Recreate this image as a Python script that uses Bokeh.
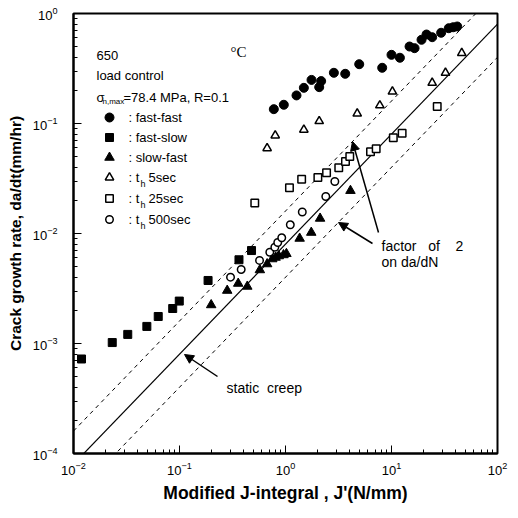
from bokeh.plotting import figure
from bokeh.models import Range1d, Arrow, NormalHead, Label
from bokeh.embed import file_html
from bokeh.resources import INLINE
from bokeh.core.properties import value

# ---------------- data ----------------
ff_j = [0.776, 0.964, 1.27, 1.49, 1.76, 2.08, 2.17, 2.86, 3.66, 4.96, 8.17, 10.0,
        12.0, 14.8, 16.5, 19.2, 21.4, 24.2, 29.4, 34.7, 38.2, 41.7]
ff_r = [0.135, 0.148, 0.180, 0.211, 0.249, 0.214, 0.243, 0.289, 0.283, 0.346, 0.321, 0.421,
        0.396, 0.501, 0.484, 0.577, 0.644, 0.609, 0.668, 0.735, 0.750, 0.762]

fs_j = [0.0119, 0.0232, 0.0325, 0.0492, 0.0630, 0.0863, 0.0995, 0.186, 0.364, 0.478]
fs_r = [0.000723, 0.00102, 0.00121, 0.00143, 0.00176, 0.00208, 0.00243, 0.00374, 0.00577, 0.00700]

sf_j = [0.199, 0.282, 0.358, 0.436, 0.573, 0.671, 0.750, 0.806, 0.865, 0.957, 1.02, 1.36,
        1.75, 2.12, 4.10]
sf_r = [0.00224, 0.00303, 0.00351, 0.00330, 0.00466, 0.00528, 0.00586, 0.00605, 0.00624,
        0.00638, 0.00654, 0.00901, 0.0102, 0.0137, 0.0245]

t5_j = [0.671, 0.800, 1.49, 2.08, 4.75, 7.76, 10.2, 24.2, 32.3, 46.0]
t5_r = [0.0596, 0.0778, 0.0877, 0.105, 0.123, 0.146, 0.195, 0.234, 0.289, 0.436]

t25_j = [0.513, 1.09, 1.42, 2.02, 2.44, 3.18, 3.68, 4.04, 6.34, 7.17, 10.4, 12.6, 27.0]
t25_r = [0.0189, 0.0260, 0.0312, 0.0323, 0.0356, 0.0396, 0.0451, 0.0501, 0.0553, 0.0589,
         0.0741, 0.0816, 0.143]

t500_j = [0.303, 0.382, 0.569, 0.711, 0.793, 0.845, 0.922, 1.11, 1.44, 2.40, 2.92]
t500_r = [0.00401, 0.00471, 0.00569, 0.00676, 0.00750, 0.00828, 0.00914, 0.0120, 0.0157,
          0.0217, 0.0297]

line_j = [0.01, 100.0]
creep_r = [8.0e-5, 0.8]     # static creep line
upper_r = [1.6e-4, 1.6]     # x2 band
lower_r = [4.0e-5, 0.4]     # /2 band

legend_names = [": fast-fast", ": fast-slow", ": slow-fast", "5sec", "25sec", "500sec"]

# ---------------- figure ----------------
FONT = "Liberation Sans"
NB = "\u00a0"
p = figure(width=512, height=515, x_axis_type="log", y_axis_type="log",
           x_range=Range1d(0.01, 100), y_range=Range1d(1e-4, 1),
           output_backend="svg", toolbar_location=None,
           min_border_left=73, min_border_right=15, min_border_top=13, min_border_bottom=62)
p.grid.visible = False
p.outline_line_color = "black"
p.outline_line_width = 2
p.background_fill_color = "white"
p.border_fill_color = "white"

for ax in (p.xaxis, p.yaxis):
    ax.axis_line_width = 2
    ax.axis_line_color = "black"
    ax.major_tick_in = 8
    ax.major_tick_out = 0
    ax.minor_tick_in = 4
    ax.minor_tick_out = 0
    ax.major_tick_line_color = "black"
    ax.minor_tick_line_color = "black"
    ax.major_label_text_font = FONT
    ax.major_label_text_font_size = "13px"
    ax.major_label_text_color = "black"
    ax.axis_label_text_font = FONT
    ax.axis_label_text_font_style = "bold"
    ax.axis_label_text_color = "black"

p.xaxis.axis_label = "Modified J-integral , J'(N/mm)"
p.xaxis.axis_label_text_font_size = "17.5px"
p.xaxis.major_label_standoff = 8
p.xaxis.axis_label_standoff = 5
p.yaxis.axis_label = "Crack growth rate, da/dt(mm/hr)"
p.yaxis.axis_label_text_font_size = "15.5px"
p.yaxis.major_label_standoff = 16
p.yaxis.axis_label_standoff = 6

# lines
p.line(line_j, creep_r, line_color="black", line_width=1.2)
p.line(line_j, upper_r, line_color="black", line_width=1, line_dash="4 4")
p.line(line_j, lower_r, line_color="black", line_width=1, line_dash="4 4")

# data
p.scatter(ff_j, ff_r, marker="circle", size=9, fill_color="black", line_color="black")
p.scatter(fs_j, fs_r, marker="square", size=8, fill_color="black", line_color="black")
p.scatter(sf_j, sf_r, marker="triangle", size=9.5, fill_color="black", line_color="black")
p.scatter(t5_j, t5_r, marker="triangle", size=8.5, fill_color="white", line_color="black", line_width=1.5)
p.scatter(t25_j, t25_r, marker="square", size=7.5, fill_color="white", line_color="black", line_width=1.5)
p.scatter(t500_j, t500_r, marker="circle", size=7.5, fill_color="white", line_color="black", line_width=1.5)

# helper to place annotations at reference pixel positions
X0, Y0, DX, DY = 73, 13, 106, 110
def at(xp, yp):
    return 10 ** ((xp - X0) / DX - 2), 10 ** ((Y0 - yp) / DY)

def lab(txt, xp, yp, size="13px", font=FONT, style="normal"):
    x, y = at(xp, yp)
    p.add_layout(Label(x=x, y=y, text=txt, text_font=font, text_font_size=size,
                       text_baseline="middle", text_align="left", text_color="black",
                       text_font_style=style))

lab("650", 96, 55)
lab("°C", 230, 51, size="15px", font="Liberation Serif")
lab("load control", 96, 75)
lab("σ", 96, 97)
lab("n,max", 102, 101, size="8px")
lab("=78.4 MPa, R=0.1", 123, 97)

leg_y = [117, 137, 157, 177, 198, 219]
markers = [("circle", 9, "black"), ("square", 8, "black"), ("triangle", 9.5, "black"),
           ("triangle", 8.5, "white"), ("square", 7.5, "white"), ("circle", 7.5, "white")]
for (mk, sz, fc), yp, name in zip(markers, leg_y, legend_names):
    x, y = at(109, yp)
    p.scatter([x], [y], marker=mk, size=sz, fill_color=fc, line_color="black",
              line_width=1.5 if fc == "white" else 1)
    if name.startswith(":"):
        lab(name, 128, yp)
    else:
        lab(": t", 128, yp)
        lab("h", 140, yp + 6, size="9px")
        lab(name, 148, yp)

lab("static" + NB * 2 + "creep", 226, 387, size="14px")
lab("factor" + NB * 3 + "of" + NB * 4 + "2", 381, 245, size="14px")
lab("on da/dN", 381, 261, size="14px")

def arrow(x1, y1, x2, y2):
    xs, ys = at(x1, y1)
    xe, ye = at(x2, y2)
    p.add_layout(Arrow(end=NormalHead(size=9, fill_color="black", line_color="black"),
                       x_start=xs, y_start=ys, x_end=xe, y_end=ye,
                       line_width=1.5, line_color="black"))

arrow(217, 376, 184, 354)
arrow(378, 232, 352, 141)
arrow(372, 243, 338, 222)

open("out.html", "w").write(file_html(p, INLINE))
